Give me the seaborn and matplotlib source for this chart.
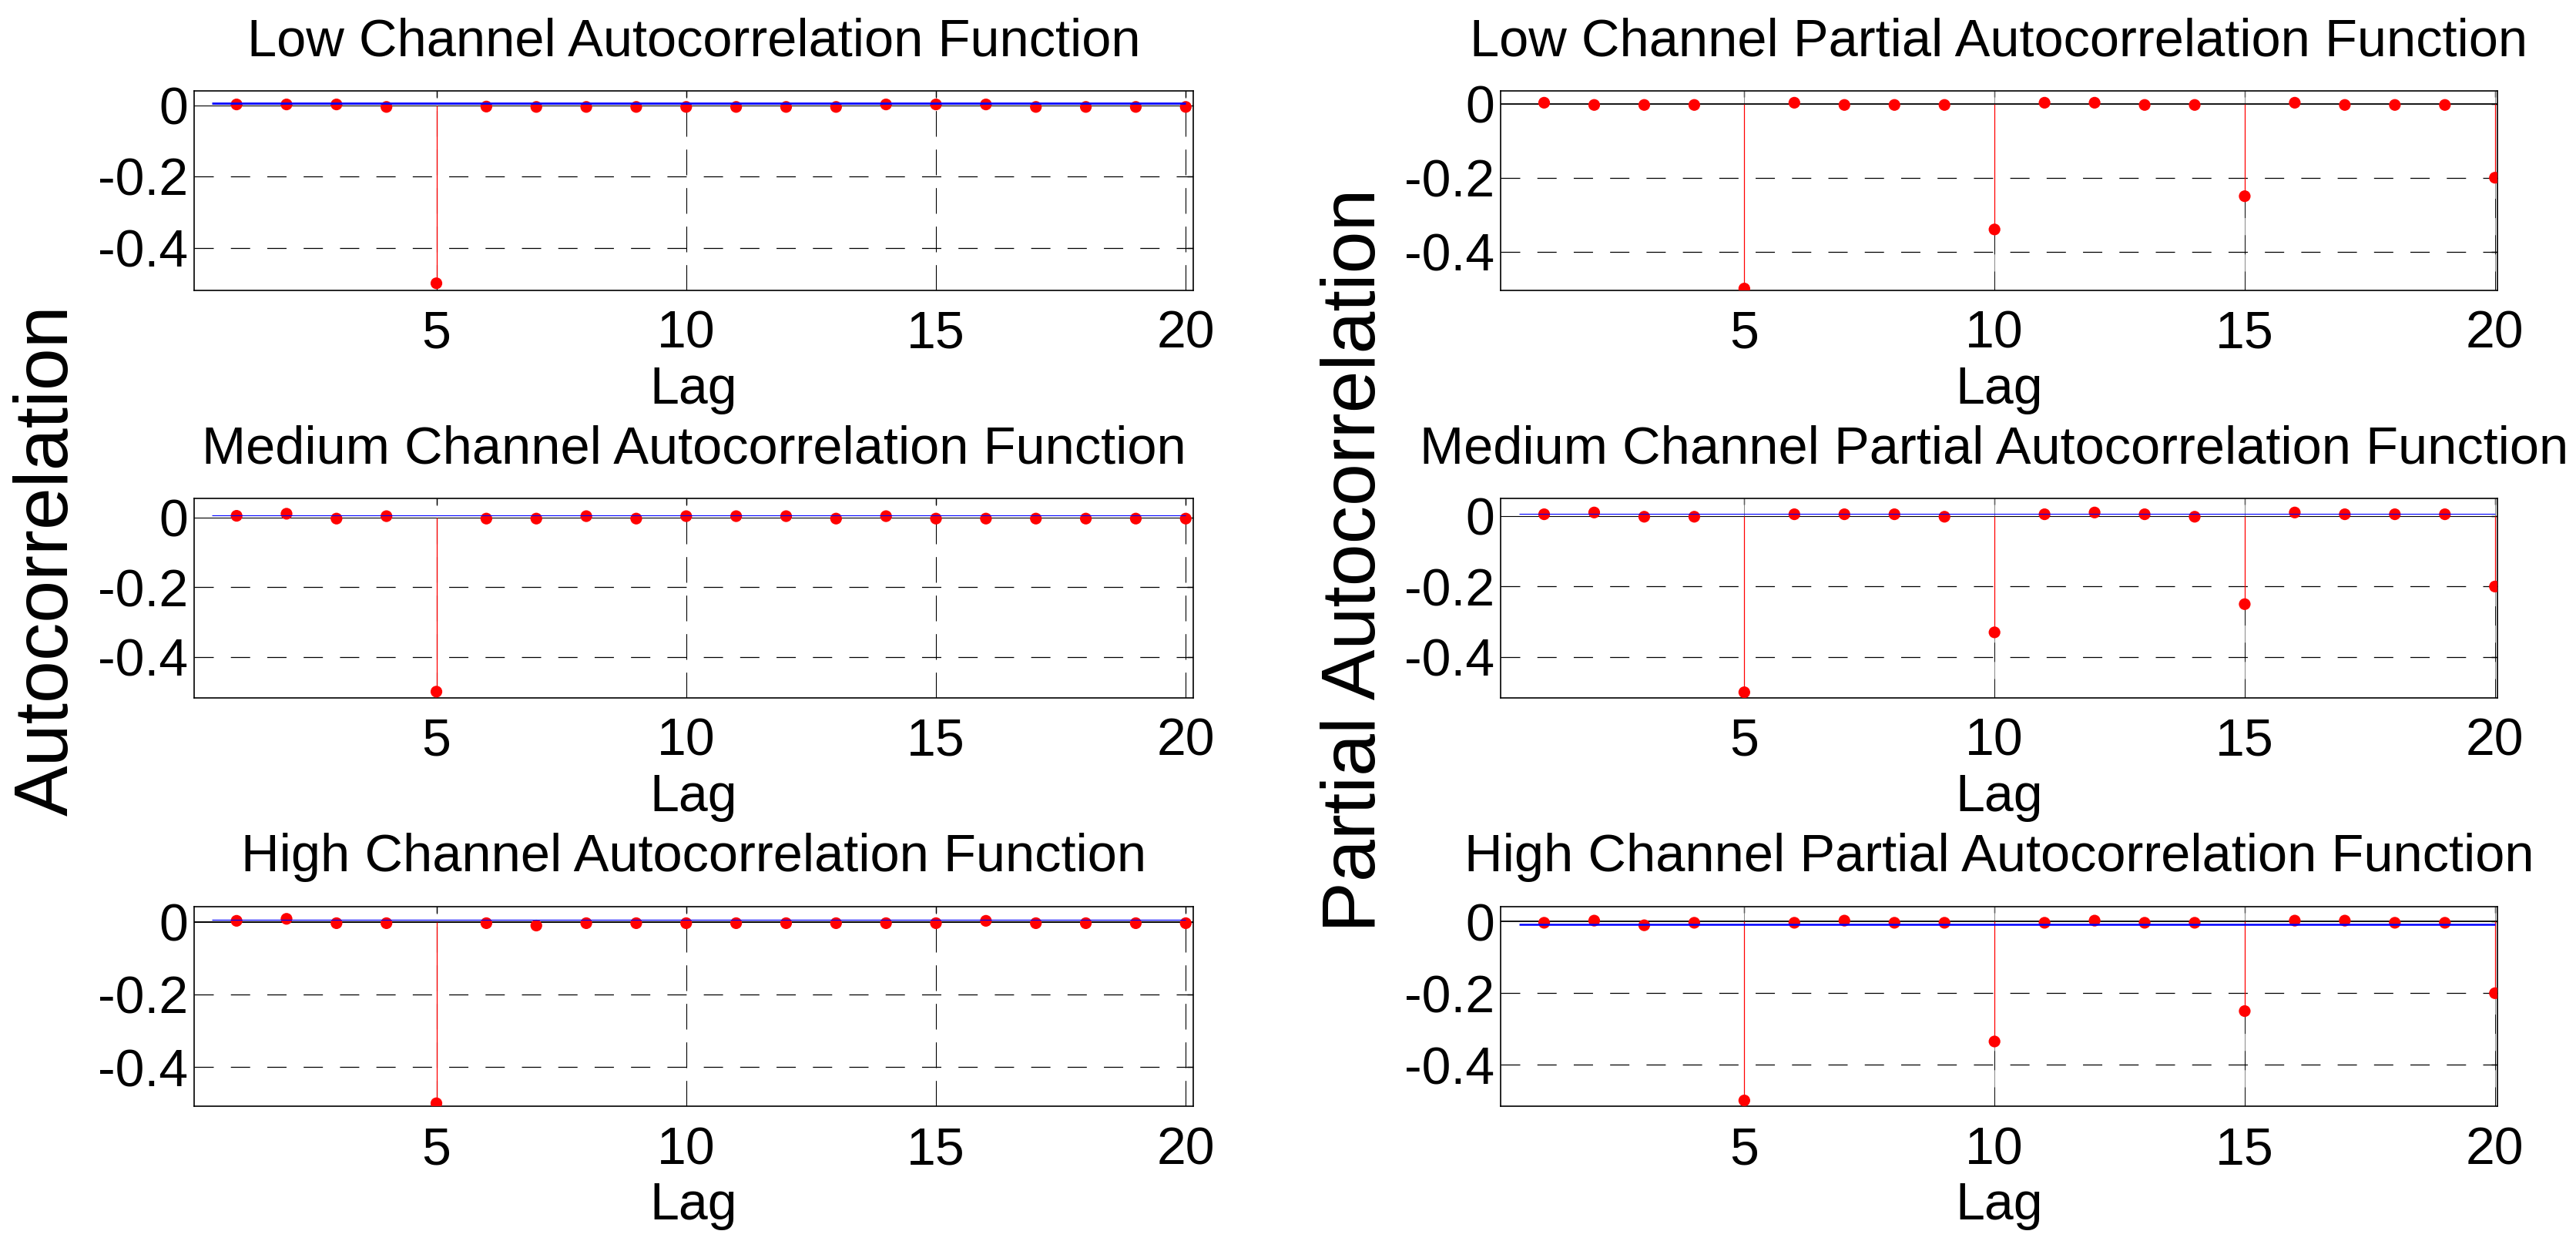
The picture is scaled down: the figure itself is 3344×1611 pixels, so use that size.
import matplotlib
matplotlib.use('Agg')
import matplotlib.pyplot as plt
import seaborn as sns
import pandas as pd

# lags shown on every panel
LAGS = list(range(1, 21))

# autocorrelation values
low_acf = [0.002, 0.002, 0.002, -0.005, -0.50, -0.004, -0.005, -0.005, -0.005, -0.005,
           -0.005, -0.005, -0.005, 0.002, 0.002, 0.002, -0.005, -0.005, -0.005, -0.005]
medium_acf = [0.005, 0.011, -0.003, 0.004, -0.50, -0.003, -0.003, 0.004, -0.003, 0.004,
              0.004, 0.004, -0.003, 0.004, -0.003, -0.003, -0.003, -0.003, -0.003, -0.003]
high_acf = [0.003, 0.0085, -0.0035, -0.0035, -0.50, -0.0035, -0.010, -0.0035, -0.0035, -0.0035,
            -0.0035, -0.0035, -0.0035, -0.0035, -0.0035, 0.003, -0.0035, -0.0035, -0.0035, -0.0035]

# partial autocorrelation values
low_pacf = [0.003, -0.003, -0.003, -0.003, -0.50, 0.003, -0.003, -0.003, -0.003, -0.34,
            0.003, 0.003, -0.003, -0.003, -0.25, 0.003, -0.003, -0.003, -0.003, -0.20]
medium_pacf = [0.005, 0.010, -0.002, -0.002, -0.50, 0.005, 0.005, 0.005, -0.002, -0.33,
               0.005, 0.010, 0.005, -0.002, -0.25, 0.010, 0.005, 0.005, 0.005, -0.20]
high_pacf = [-0.003, 0.003, -0.010, -0.003, -0.50, -0.003, 0.003, -0.003, -0.003, -0.335,
             -0.003, 0.003, -0.003, -0.003, -0.25, 0.003, 0.003, -0.003, -0.003, -0.20]

# blue reference level on each panel (None = not visible)
blue_levels = {'low_acf': 0.005, 'medium_acf': 0.0065, 'high_acf': 0.005,
               'low_pacf': None, 'medium_pacf': 0.007, 'high_pacf': -0.007}

TITLES = {
    'low_acf': 'Low Channel Autocorrelation Function',
    'medium_acf': 'Medium Channel Autocorrelation Function',
    'high_acf': 'High Channel Autocorrelation Function',
    'low_pacf': 'Low Channel Partial Autocorrelation Function',
    'medium_pacf': 'Medium Channel Partial Autocorrelation Function',
    'high_pacf': 'High Channel Partial Autocorrelation Function',
}

YTICKS = [0, -0.2, -0.4]
YTICK_LABELS = ['0', '-0.2', '-0.4']
XTICKS = [5, 10, 15, 20]


sns.set_style('white')
plt.rcParams['font.family'] = ['Liberation Sans', 'DejaVu Sans']
plt.rcParams['axes.unicode_minus'] = False
plt.rcParams['lines.scale_dashes'] = False
plt.rcParams['text.color'] = 'black'
plt.rcParams['axes.labelcolor'] = 'black'
plt.rcParams['axes.titlecolor'] = 'black'


def draw_panel(ax, vals, key, partial, ylim, xlim, blue_lw, zero_lw):
    df = pd.DataFrame({'lag': LAGS, 'value': vals})

    # grid: dashed horizontal lines, vertical ones dashed (ACF) or thin grey (PACF)
    for y in YTICKS[1:]:
        ax.axhline(y, color='black', lw=0.45, dashes=(9, 8), zorder=1)
    for x in XTICKS:
        if partial:
            ax.axvline(x, color='0.45', lw=0.3, zorder=1)
            ax.axvline(x, ymax=0.55, color='black', lw=0.35, dashes=(9, 8), zorder=1)
        else:
            ax.axvline(x, color='black', lw=0.4, dashes=(12, 6), zorder=1)

    ax.axhline(0, color='black', lw=zero_lw, zorder=2)
    ax.vlines(df['lag'], 0, df['value'], color='red', lw=0.45, zorder=3)
    sns.scatterplot(data=df, x='lag', y='value', ax=ax, color='red', s=30,
                    edgecolor='none', linewidth=0, zorder=4, legend=False)

    level = blue_levels[key]
    if level is not None:
        ax.hlines(level, 0.5, 20, color='blue', lw=blue_lw, zorder=5)

    ax.set_xlim(*xlim)
    ax.set_ylim(*ylim)
    ax.set_xticks(XTICKS)
    ax.set_xticklabels([str(t) for t in XTICKS])
    ax.set_yticks(YTICKS)
    ax.set_yticklabels(YTICK_LABELS)
    ax.tick_params(axis='both', labelsize=24.5, direction='in', length=3, width=0.5,
                   top=True, right=True, colors='black')
    ax.tick_params(axis='x', pad=9)
    ax.tick_params(axis='y', pad=3)
    ax.set_xlabel('Lag', fontsize=24.5, labelpad=3)
    ax.set_ylabel('')
    ax.set_title(TITLES[key], fontsize=24.7, pad=16.5, color='black')
    for s in ax.spines.values():
        s.set_linewidth(0.6)
        s.set_color('black')


fig = plt.figure(figsize=(16.72, 8.055), dpi=200)

W, H = 3344, 1611
col_px = {'acf': (252, 1549), 'pacf': (1948, 3242)}
row_px = [(118, 377), (647, 906), (1177, 1436)]

panels = [
    ('low_acf', low_acf, False, 0, (-0.52, 0.04), (0.15, 20.15), 1.0, 0.4),
    ('medium_acf', medium_acf, False, 1, (-0.518, 0.055), (0.15, 20.15), 0.4, 0.4),
    ('high_acf', high_acf, False, 2, (-0.508, 0.042), (0.15, 20.15), 0.45, 0.7),
    ('low_pacf', low_pacf, True, 0, (-0.505, 0.035), (0.13, 20.05), 0.8, 0.65),
    ('medium_pacf', medium_pacf, True, 1, (-0.516, 0.05), (0.13, 20.05), 0.4, 0.4),
    ('high_pacf', high_pacf, True, 2, (-0.516, 0.042), (0.13, 20.05), 0.9, 0.65),
]

for key, vals, partial, row, ylim, xlim, blue_lw, zero_lw in panels:
    x0, x1 = col_px['pacf' if partial else 'acf']
    y0, y1 = row_px[row]
    ax = fig.add_axes([x0 / W, 1 - y1 / H, (x1 - x0) / W, (y1 - y0) / H])
    draw_panel(ax, vals, key, partial, ylim, xlim, blue_lw, zero_lw)
    if key == 'medium_pacf':
        # this title sits a touch left of the axes centre in the reference
        ax.title.set_x(0.495)

fig.text(62 / W, 1 - 727 / H, 'Autocorrelation', rotation=90, fontsize=35.5,
         ha='center', va='center')
fig.text(1760 / W, 1 - 727 / H, 'Partial Autocorrelation', rotation=90, fontsize=35.5,
         ha='center', va='center')

fig.savefig('out.png', dpi=200, facecolor='white')
